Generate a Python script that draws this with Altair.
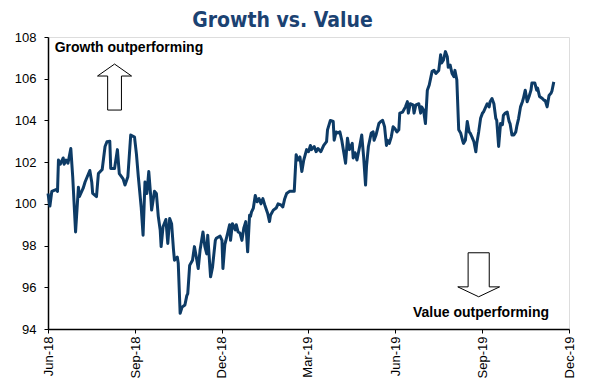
import altair as alt
import pandas as pd

# ---- data ----
dates = [
    "2018-06-01", "2018-06-03", "2018-06-05", "2018-06-10", "2018-06-11", "2018-06-12", "2018-06-14",
    "2018-06-17", "2018-06-18", "2018-06-20", "2018-06-22", "2018-06-25", "2018-06-27", "2018-06-30",
    "2018-07-03", "2018-07-04", "2018-07-08", "2018-07-10", "2018-07-15", "2018-07-17", "2018-07-18",
    "2018-07-22", "2018-07-24", "2018-07-28", "2018-07-31", "2018-08-02", "2018-08-05", "2018-08-06",
    "2018-08-10", "2018-08-13", "2018-08-15", "2018-08-19", "2018-08-21", "2018-08-24", "2018-08-27",
    "2018-08-31", "2018-09-02", "2018-09-04", "2018-09-07", "2018-09-09", "2018-09-11", "2018-09-13",
    "2018-09-15", "2018-09-17", "2018-09-18", "2018-09-21", "2018-09-23", "2018-09-25", "2018-09-27",
    "2018-09-28", "2018-09-30", "2018-10-03", "2018-10-05", "2018-10-07", "2018-10-09", "2018-10-11",
    "2018-10-12", "2018-10-15", "2018-10-16", "2018-10-18", "2018-10-20", "2018-10-23", "2018-10-25",
    "2018-10-26", "2018-10-28", "2018-10-31", "2018-11-02", "2018-11-04", "2018-11-06", "2018-11-08",
    "2018-11-11", "2018-11-13", "2018-11-15", "2018-11-16", "2018-11-19", "2018-11-21", "2018-11-24",
    "2018-11-25", "2018-11-29", "2018-12-01", "2018-12-02", "2018-12-04", "2018-12-07", "2018-12-09",
    "2018-12-10", "2018-12-12", "2018-12-15", "2018-12-16", "2018-12-18", "2018-12-20", "2018-12-22",
    "2018-12-24", "2018-12-26", "2018-12-28", "2018-12-30", "2018-12-31", "2019-01-01", "2019-01-03",
    "2019-01-05", "2019-01-07", "2019-01-09", "2019-01-11", "2019-01-13", "2019-01-15", "2019-01-18",
    "2019-01-20", "2019-01-21", "2019-01-24", "2019-01-27", "2019-01-29", "2019-02-01", "2019-02-03",
    "2019-02-05", "2019-02-07", "2019-02-10", "2019-02-12", "2019-02-15", "2019-02-17", "2019-02-19",
    "2019-02-21", "2019-02-23", "2019-02-25", "2019-02-28", "2019-03-02", "2019-03-04", "2019-03-05",
    "2019-03-08", "2019-03-10", "2019-03-12", "2019-03-15", "2019-03-18", "2019-03-21", "2019-03-22",
    "2019-03-25", "2019-03-28", "2019-03-29", "2019-03-31", "2019-04-02", "2019-04-04", "2019-04-06",
    "2019-04-08", "2019-04-10", "2019-04-12", "2019-04-14", "2019-04-17", "2019-04-18", "2019-04-20",
    "2019-04-22", "2019-04-25", "2019-04-27", "2019-04-29", "2019-05-01", "2019-05-02", "2019-05-04",
    "2019-05-07", "2019-05-09", "2019-05-10", "2019-05-12", "2019-05-15", "2019-05-17", "2019-05-19",
    "2019-05-21", "2019-05-23", "2019-05-24", "2019-05-26", "2019-05-28", "2019-05-30", "2019-06-01",
    "2019-06-03", "2019-06-05", "2019-06-06", "2019-06-09", "2019-06-12", "2019-06-14", "2019-06-15",
    "2019-06-17", "2019-06-20", "2019-06-21", "2019-06-23", "2019-06-26", "2019-06-28", "2019-06-29",
    "2019-07-01", "2019-07-03", "2019-07-05", "2019-07-07", "2019-07-10", "2019-07-12", "2019-07-14",
    "2019-07-17", "2019-07-19", "2019-07-20", "2019-07-22", "2019-07-24", "2019-07-26", "2019-07-27",
    "2019-07-29", "2019-07-31", "2019-08-02", "2019-08-03", "2019-08-05", "2019-08-07", "2019-08-09",
    "2019-08-11", "2019-08-12", "2019-08-14", "2019-08-16", "2019-08-18", "2019-08-19", "2019-08-21",
    "2019-08-23", "2019-08-25", "2019-08-26", "2019-08-28", "2019-08-30", "2019-09-01", "2019-09-02",
    "2019-09-04", "2019-09-06", "2019-09-08", "2019-09-09", "2019-09-11", "2019-09-13", "2019-09-15",
    "2019-09-16", "2019-09-18", "2019-09-20", "2019-09-22", "2019-09-23", "2019-09-25", "2019-09-27",
    "2019-09-29", "2019-09-30", "2019-10-02", "2019-10-04", "2019-10-06", "2019-10-07", "2019-10-09",
    "2019-10-11", "2019-10-13", "2019-10-14", "2019-10-16", "2019-10-18", "2019-10-20", "2019-10-22",
    "2019-10-23", "2019-10-26", "2019-10-28", "2019-10-29", "2019-10-31", "2019-11-03", "2019-11-05",
    "2019-11-06", "2019-11-08", "2019-11-10", "2019-11-12", "2019-11-13", "2019-11-15",
]
values = [
    100.5, 99.9, 100.6, 100.7, 100.6, 102.1, 101.9,
    102.2, 101.9, 102.1, 101.95, 102.65, 101.3, 98.65,
    100.8, 100.35, 100.75, 101.05, 101.6, 101.05, 100.5,
    100.35, 101.45, 101.65, 102.75, 102.98, 103.0, 101.7,
    101.7, 102.6, 101.45, 101.2, 100.9, 101.3, 103.3,
    103.2, 102.4, 101.3, 99.85, 98.5, 101.05, 100.5,
    101.55, 100.4, 99.7, 100.6, 100.5, 99.4, 98.75,
    97.95, 98.9, 99.25, 98.1, 99.3, 99.05, 97.8,
    97.3, 97.45, 97.15, 94.75, 95.05, 95.15, 95.6,
    95.7, 97.05, 97.3, 97.95, 97.45, 96.9, 97.8,
    98.65, 97.95, 97.6, 98.5, 96.5, 96.95, 98.25,
    98.35, 98.45, 98.25, 96.9, 98.05, 98.6, 99.0,
    98.25, 99.05, 98.75, 99.0, 98.65, 98.6, 98.25,
    98.85, 99.15, 97.7, 99.45, 99.4, 99.6, 99.8,
    100.4, 100.1, 100.25, 100.0, 100.25, 99.95, 99.55,
    99.15, 99.45, 99.7, 99.8, 100.0, 99.95, 99.85,
    100.25, 100.5, 100.6, 100.6, 100.6, 102.35, 102.1,
    102.25, 101.55, 102.1, 102.6, 102.5, 102.8, 102.6,
    102.75, 102.5, 102.65, 102.5, 102.8, 102.98, 103.55,
    104.0, 103.95, 103.05, 103.45, 103.4, 103.45, 103.05,
    102.5, 101.95, 103.15, 102.6, 102.9, 102.2, 102.45,
    102.1, 102.8, 103.3, 102.25, 100.9, 101.8, 102.75,
    103.4, 103.45, 103.05, 103.3, 103.85, 103.95, 104.0,
    103.7, 102.8, 103.05, 102.9, 103.2, 103.7, 103.6,
    103.45, 103.55, 104.35, 104.4, 104.65, 104.9, 104.35,
    104.8, 104.75, 104.35, 104.75, 104.8, 104.35, 104.65,
    104.5, 103.85, 105.45, 105.7, 106.35, 106.4, 106.25,
    106.4, 107.15, 106.75, 106.9, 107.3, 107.05, 106.55,
    106.65, 106.25, 106.1, 106.4, 105.95, 103.55, 103.4,
    103.05, 102.9, 103.05, 103.95, 103.45, 103.4, 103.2,
    102.98, 102.5, 102.9, 103.45, 104.1, 104.35, 104.4,
    104.6, 104.8, 104.65, 104.9, 105.05, 104.8, 104.1,
    104.0, 102.75, 103.85, 103.8, 104.25, 104.35, 104.4,
    103.95, 103.85, 103.3, 103.3, 103.45, 103.7, 104.1,
    104.65, 104.9, 105.05, 105.45, 104.9, 105.15, 105.45,
    105.8, 105.8, 105.45, 105.55, 105.15, 105.05, 104.95,
    104.95, 104.65, 105.2, 105.3, 105.4, 105.85,
]

x_tick_dates = [(2018, 6), (2018, 9), (2018, 12), (2019, 3), (2019, 6), (2019, 9), (2019, 12)]
y_ticks = [94, 96, 98, 100, 102, 104, 106, 108]

note_text = ["Growth outperforming", "Value outperforming"]
note_date = ["2018-06-08", "2019-11-10"]
note_value = [107.47, 94.77]

arrow_date = ["2018-08-10", "2019-08-28"]
arrow_value = [105.6, 96.6]

# ---- chart ----
df = pd.DataFrame({"date": dates, "value": values})
notes = pd.DataFrame({"date": note_date, "value": note_value, "text": note_text})
arrows_up = pd.DataFrame({"date": arrow_date[:1], "value": arrow_value[:1]})
arrows_dn = pd.DataFrame({"date": arrow_date[1:], "value": arrow_value[1:]})

FONT = "Liberation Sans"

x_scale = alt.Scale(
    type="utc",
    domain=[alt.DateTime(year=2018, month=6, date=1, utc=True),
            alt.DateTime(year=2019, month=12, date=1, utc=True)],
)
y_scale = alt.Scale(domain=[94, 108], nice=False, zero=False)

x_axis = alt.Axis(
    values=[alt.DateTime(year=y, month=m, date=1, utc=True) for y, m in x_tick_dates],
    labelExpr="utcFormat(datum.value, '%b-%y')",
    labelAngle=270, labelAlign="right", labelBaseline="middle",
    labelFontSize=13, labelFont=FONT, labelColor="#000000",
    tickSize=4, tickColor="#000000", domainColor="#000000", domainWidth=1.5,
    labelPadding=3, grid=False, title=None, labelOverlap=False,
)
y_axis = alt.Axis(
    values=y_ticks, labelFontSize=13, labelFont=FONT, labelColor="#000000",
    tickSize=4, tickColor="#000000", domainColor="#000000", domainWidth=1.5,
    labelPadding=8, grid=False, title=None,
)

line = alt.Chart(df).mark_line(color="#0D3B66", strokeWidth=3, strokeJoin="round").encode(
    x=alt.X("date:T", scale=x_scale, axis=x_axis),
    y=alt.Y("value:Q", scale=y_scale, axis=y_axis),
)

txt_left = alt.Chart(notes.iloc[:1]).mark_text(
    align="left", baseline="middle", font=FONT, fontSize=14, fontWeight="bold", color="#000000"
).encode(x="date:T", y="value:Q", text="text:N")
txt_right = alt.Chart(notes.iloc[1:]).mark_text(
    align="right", baseline="middle", font=FONT, fontSize=14, fontWeight="bold", color="#000000"
).encode(x="date:T", y="value:Q", text="text:N")

up_path = "M0,-1 L0.74,-0.48 L0.3,-0.48 L0.3,1 L-0.3,1 L-0.3,-0.48 L-0.74,-0.48 Z"
dn_path = "M-0.48,-1 L0.48,-1 L0.48,0.55 L0.95,0.55 L0,1 L-0.95,0.55 L-0.48,0.55 Z"

arrow_up = alt.Chart(arrows_up).mark_point(
    shape=up_path, filled=True, fill="white", stroke="#000000", strokeWidth=1, size=2116, opacity=1
).encode(x="date:T", y="value:Q")
arrow_dn = alt.Chart(arrows_dn).mark_point(
    shape=dn_path, filled=True, fill="white", stroke="#000000", strokeWidth=1, size=1936, opacity=1
).encode(x="date:T", y="value:Q")

chart = alt.layer(line, txt_left, txt_right, arrow_up, arrow_dn).properties(
    width=521,
    height=292,
    title=alt.TitleParams(
        "Growth vs. Value", font="DejaVu Sans Condensed, Liberation Sans",
        fontSize=21, fontWeight="bold", color="#1B4272", anchor="middle", dx=-26, dy=10, offset=10,
    ),
    autosize=alt.AutoSizeParams(type="none"),
    padding={"left": 40, "top": 29, "right": 17, "bottom": 55},
).configure_view(stroke="#A0A0A0", strokeWidth=1.5).configure(background="white")

chart.save("out.html", embed_options={"renderer": "svg", "actions": False})
